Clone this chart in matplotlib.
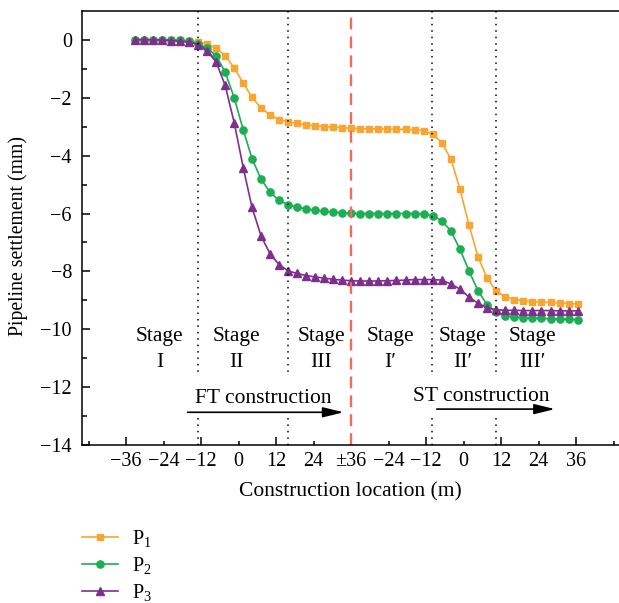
import matplotlib
matplotlib.use("Agg")
import matplotlib.pyplot as plt

plt.rcParams["font.family"] = ["Liberation Serif", "DejaVu Serif"]
plt.rcParams["font.size"] = 14.5

# axis position of each measurement: first tunnel (FT) then second tunnel (ST),
# the ST half is shifted by +72 so both share one axis (36 == ±36 == 36+0)
loc_ft = [-33.1, -30.2, -27.3, -24.5, -21.6, -18.7, -15.8, -12.9, -10.1, -7.2,
          -4.3, -1.4, 1.5, 4.3, 7.2, 10.1, 13.0, 15.9, 18.7, 21.6, 24.5, 27.4,
          30.2, 33.1, 36.0]
loc_st = [38.9, 41.8, 44.7, 47.6, 50.5, 53.4, 56.3, 59.2, 62.1, 65.0, 67.9,
          70.8, 73.7, 76.6, 79.5, 82.4, 85.3, 88.2, 91.1, 94.0, 96.9, 99.8,
          102.7, 105.6, 108.5]
loc = loc_ft + loc_st

p1 = [0, 0, 0, 0, -0.01, -0.02, -0.03, -0.08, -0.15, -0.29, -0.55, -0.98,
      -1.50, -1.99, -2.36, -2.60, -2.76, -2.84, -2.89, -2.94, -2.97, -3.00,
      -3.02, -3.04, -3.06,
      -3.07, -3.08, -3.08, -3.09, -3.09, -3.10, -3.11, -3.14, -3.26, -3.56,
      -4.11, -5.15, -6.39, -7.50, -8.23, -8.67, -8.88, -8.97, -9.01, -9.04,
      -9.06, -9.07, -9.09, -9.11, -9.12]
p2 = [0, 0, 0, -0.01, -0.01, -0.02, -0.06, -0.15, -0.29, -0.55, -1.12, -2.01,
      -3.12, -4.11, -4.82, -5.27, -5.55, -5.70, -5.78, -5.84, -5.89, -5.92,
      -5.95, -5.97, -5.99,
      -6.00, -6.00, -6.00, -6.00, -6.00, -6.00, -6.00, -6.01, -6.08, -6.25,
      -6.60, -7.23, -7.98, -8.67, -9.15, -9.41, -9.53, -9.57, -9.59, -9.61,
      -9.62, -9.63, -9.64, -9.65, -9.66]
p3 = [0, 0, -0.01, -0.01, -0.03, -0.06, -0.08, -0.17, -0.38, -0.77, -1.58,
      -2.87, -4.43, -5.79, -6.78, -7.40, -7.77, -7.98, -8.07, -8.14, -8.19,
      -8.23, -8.27, -8.30, -8.32,
      -8.33, -8.33, -8.33, -8.32, -8.31, -8.30, -8.28, -8.28, -8.28, -8.30,
      -8.43, -8.61, -8.88, -9.10, -9.25, -9.32, -9.34, -9.34, -9.35, -9.35,
      -9.35, -9.35, -9.36, -9.36, -9.36]

# tick positions and labels
major_ticks = [-36, -12, 12, 36, 60, 84, 108]
major_labels = ["\u221236", "\u221212", "12", "\u00b136", "\u221212", "12", "36"]
minor_ticks = [-48, -24, 0, 24, 48, 72, 96, 120]
minor_labels = ["", "\u221224", "0", "24", "\u221224", "0", "24", ""]
y_ticks = [0, -2, -4, -6, -8, -10, -12, -14]
y_labels = ["0", "\u22122", "\u22124", "\u22126", "\u22128", "\u221210", "\u221212", "\u221214"]

# stage boundaries and labels
stage_bounds = [-12.9, 15.9, 61.8, 82.3]
stage_x = [-25.2, -0.6, 26.4, 48.6, 71.6, 93.9]
stage_names = ["I", "II", "III", "I\u2032", "II\u2032", "III\u2032"]

fig = plt.figure(figsize=(6.19, 6.03), dpi=100)
ax = fig.add_axes([0.132, 0.2615, 0.868, 0.7208])

ax.plot(loc, p1, color="#F8A630", marker="s", ms=5, lw=1.2, label="$\\mathregular{P_1}$")
ax.plot(loc, p2, color="#1BAE52", marker="o", ms=5.2, lw=1.2, label="$\\mathregular{P_2}$")
ax.plot(loc, p3, color="#7E2F8E", marker="^", ms=6, lw=1.2, label="$\\mathregular{P_3}$")

# dotted stage separators, broken where the construction arrows are
for b in stage_bounds:
    ax.plot([b, b], [1, -11.47], color="black", ls=(0, (1, 3.2)), lw=1.1)
    ax.plot([b, b], [-13.06, -14], color="black", ls=(0, (1, 3.2)), lw=1.1)

# tunnel switch line
ax.axvline(36, color="#F26B5B", ls=(0, (5, 3)), lw=1.7)

for sx, sn in zip(stage_x, stage_names):
    ax.text(sx, -10.24, "Stage", ha="center", va="center", fontsize=15.5)
    ax.text(sx, -11.15, sn, ha="center", va="center", fontsize=15.5)

ax.text(8.0, -12.38, "FT construction", ha="center", va="center", fontsize=15.5)
ax.text(77.5, -12.32, "ST construction", ha="center", va="center", fontsize=15.5)
arrow = dict(arrowstyle="-|>,head_length=0.9,head_width=0.22", color="black",
             lw=1.2, shrinkA=0, shrinkB=0, mutation_scale=14)
ax.annotate("", xy=(33.6, -12.86), xytext=(-16.3, -12.86), arrowprops=arrow)
ax.annotate("", xy=(101.2, -12.75), xytext=(63.4, -12.75), arrowprops=arrow)

ax.set_xlim(-50.2, 121.7)
ax.set_ylim(-14, 1.0)
ax.set_xticks(major_ticks, labels=major_labels)
ax.set_xticks(minor_ticks, labels=minor_labels, minor=True)
ax.set_yticks(y_ticks, labels=y_labels)
ax.set_yticks([-1, -3, -5, -7, -9, -11, -13], minor=True)
ax.tick_params(which="both", direction="in", width=1.1, labelsize=14.5)
ax.tick_params(axis="x", which="major", length=6, pad=5)
ax.tick_params(axis="x", which="minor", length=3, pad=5)
ax.tick_params(axis="y", which="major", length=6, pad=7)
ax.tick_params(axis="y", which="minor", length=3.5)
ax.spines["right"].set_visible(False)
for s in ["left", "bottom", "top"]:
    ax.spines[s].set_linewidth(1.1)

ax.set_xlabel("Construction location (m)", fontsize=15.5, labelpad=8)
ax.set_ylabel("Pipeline settlement (mm)", fontsize=14.2)
ax.yaxis.set_label_coords(-0.100, 0.4816)

fig.legend(loc="upper left", bbox_to_anchor=(0.132, 0.124), frameon=False,
           borderpad=0, borderaxespad=0, handlelength=1.8, handletextpad=0.7,
           labelspacing=0.3, fontsize=14.5)

fig.savefig("out.png", dpi=100)
